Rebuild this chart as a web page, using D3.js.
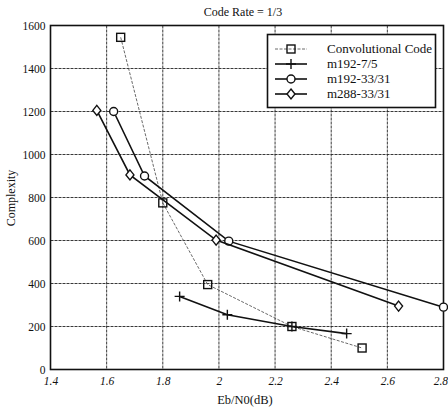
<!DOCTYPE html>
<html><head><meta charset="utf-8">
<script src="https://cdn.jsdelivr.net/npm/d3@7"></script>
<style>body{margin:0;background:#fff}svg{display:block}text{font-family:"Liberation Serif","DejaVu Serif",serif;fill:#111}</style>
</head><body><svg id="c" width="448" height="407"></svg>
<script>
const title = "Code Rate = 1/3";
const xLabel = "Eb/N0(dB)";
const yLabel = "Complexity";
const xTicks = [1.4, 1.6, 1.8, 2, 2.2, 2.4, 2.6, 2.8];
const yTicks = [0, 200, 400, 600, 800, 1000, 1200, 1400, 1600];
const seriesNames = ["Convolutional Code", "m192-7/5", "m192-33/31", "m288-33/31"];
const seriesMarkers = ["square", "plus", "circle", "diamond"];
const convX = [1.65, 1.80, 1.96, 2.26, 2.51];
const convY = [1545, 775, 395, 200, 100];
const m192_75X = [1.86, 2.03, 2.26, 2.455];
const m192_75Y = [340, 255, 200, 167];
const m192_3331X = [1.625, 1.735, 2.035, 2.80];
const m192_3331Y = [1200, 900, 597, 290];
const m288_3331X = [1.565, 1.683, 1.99, 2.64];
const m288_3331Y = [1205, 905, 602, 295];

const seriesX = [convX, m192_75X, m192_3331X, m288_3331X];
const seriesY = [convY, m192_75Y, m192_3331Y, m288_3331Y];

const svg = d3.select("#c");
const L = 50.5, R = 443.5, T = 25.5, B = 369.5;
const x = d3.scaleLinear().domain([1.4, 2.8]).range([L, R]);
const y = d3.scaleLinear().domain([0, 1600]).range([B, T]);

// grid
const g = svg.append("g");
g.selectAll(".gx").data(xTicks.slice(1, -1)).enter().append("line")
  .attr("x1", d => x(d)).attr("x2", d => x(d)).attr("y1", T).attr("y2", B)
  .attr("stroke", "#222").attr("stroke-width", 0.9).attr("stroke-dasharray", "3,1");
g.selectAll(".gy").data(yTicks.slice(1, -1)).enter().append("line")
  .attr("y1", d => y(d)).attr("y2", d => y(d)).attr("x1", L).attr("x2", R)
  .attr("stroke", "#222").attr("stroke-width", 0.9).attr("stroke-dasharray", "3,1");

// axes
const xa = svg.append("g").attr("transform", `translate(0,${B})`)
  .call(d3.axisBottom(x).tickValues(xTicks).tickSize(0).tickPadding(7).tickFormat(d3.format("")));
const ya = svg.append("g").attr("transform", `translate(${L},0)`)
  .call(d3.axisLeft(y).tickValues(yTicks).tickSize(0).tickPadding(5).tickFormat(d3.format("")));
[xa, ya].forEach(a => { a.select(".domain").remove(); a.selectAll("text").style("font-size", "11.5px").style("font-family", "Liberation Serif").attr("fill", "#111"); });
xa.selectAll("text").style("font-style", "italic");
xa.selectAll("text").filter(d => d === 2.8).attr("text-anchor", "end").attr("dx", "4");

// frame
svg.append("rect").attr("x", L).attr("y", T).attr("width", R - L).attr("height", B - T)
  .attr("fill", "none").attr("stroke", "#111").attr("stroke-width", 1.6);

function marker(sel, type, cx, cy) {
  if (type === "square") sel.append("rect").attr("x", cx - 4).attr("y", cy - 4).attr("width", 8).attr("height", 8)
    .attr("fill", "none").attr("stroke", "#111").attr("stroke-width", 1.4);
  else if (type === "circle") sel.append("circle").attr("cx", cx).attr("cy", cy).attr("r", 4)
    .attr("fill", "#fff").attr("stroke", "#111").attr("stroke-width", 1.4);
  else if (type === "diamond") sel.append("path").attr("d", `M${cx},${cy-5}L${cx+4},${cy}L${cx},${cy+5}L${cx-4},${cy}Z`)
    .attr("fill", "#fff").attr("stroke", "#111").attr("stroke-width", 1.4);
  else if (type === "plus") sel.append("path").attr("d", `M${cx-5},${cy}H${cx+5}M${cx},${cy-5}V${cy+5}`)
    .attr("stroke", "#111").attr("stroke-width", 1.4).attr("fill", "none");
}

const line = d3.line().x(d => x(d[0])).y(d => y(d[1]));
seriesNames.forEach((name, i) => {
  const pts = seriesX[i].map((v, j) => [v, seriesY[i][j]]);
  const gs = svg.append("g");
  gs.append("path").attr("d", line(pts)).attr("fill", "none")
    .attr("stroke", i === 0 ? "#444" : "#111").attr("stroke-width", i === 0 ? 0.8 : 1.6)
    .attr("stroke-dasharray", i === 0 ? "3,1.5" : null);
  pts.forEach(p => marker(gs, seriesMarkers[i], x(p[0]), y(p[1])));
});

// legend
const lg = svg.append("g");
lg.append("rect").attr("x", 267.5).attr("y", 34.5).attr("width", 168).attr("height", 73)
  .attr("fill", "#fff").attr("stroke", "#111").attr("stroke-width", 1.6);
seriesNames.forEach((name, i) => {
  const ly = 49 + i * 15;
  lg.append("line").attr("x1", 275).attr("x2", 307).attr("y1", ly).attr("y2", ly)
    .attr("stroke", i === 0 ? "#444" : "#111").attr("stroke-width", i === 0 ? 0.8 : 1.6)
    .attr("stroke-dasharray", i === 0 ? "3,1.5" : null);
  marker(lg, seriesMarkers[i], 291, ly);
  lg.append("text").attr("x", 327).attr("y", ly + 4).style("font-size", "13px").text(name);
});

svg.append("text").attr("x", 243).attr("y", 16).attr("text-anchor", "middle").style("font-size", "12px").text(title);
svg.append("text").attr("x", 245).attr("y", 404).attr("text-anchor", "middle").style("font-size", "12.5px").text(xLabel);
svg.append("text").attr("transform", "translate(15,198) rotate(-90)").attr("text-anchor", "middle").style("font-size", "12px").text(yLabel);
</script></body></html>
